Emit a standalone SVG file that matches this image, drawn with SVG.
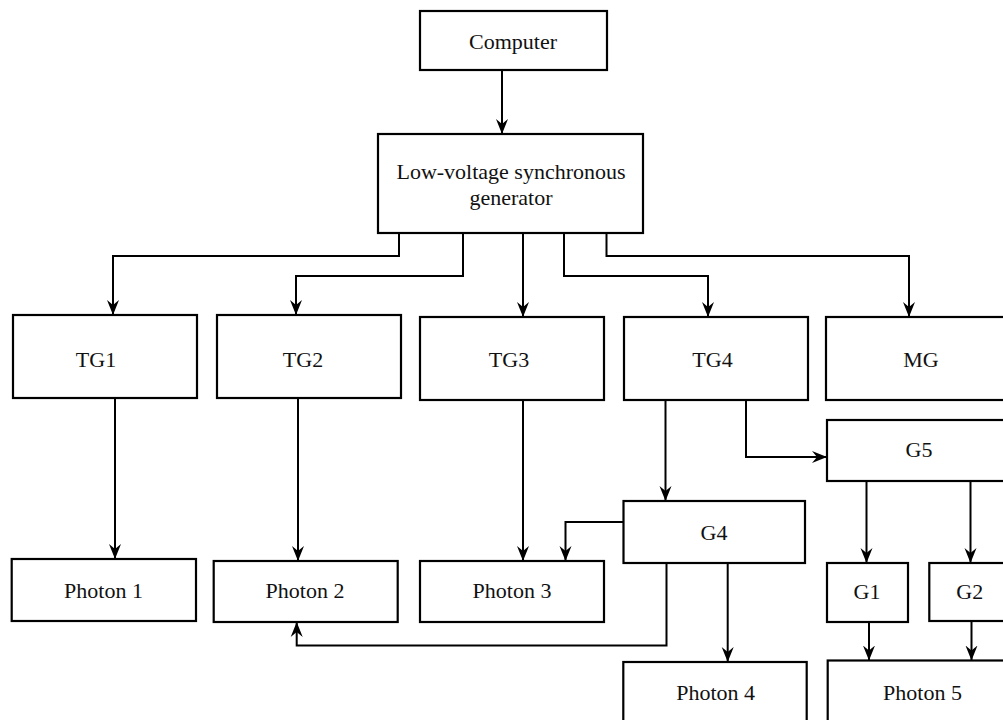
<svg xmlns="http://www.w3.org/2000/svg" width="1003" height="720" viewBox="0 0 1003 720">
<defs>
<style>
.box{fill:#fff;stroke:#000;stroke-width:2.2}
.lbl{font-family:"Liberation Serif","Times New Roman",serif;font-size:22px;fill:#111;text-anchor:middle}
.con{fill:none;stroke:#000;stroke-width:2;marker-end:url(#ah)}
</style>
<marker id="ah" markerUnits="userSpaceOnUse" markerWidth="16" markerHeight="14" refX="15" refY="7" orient="auto">
<path d="M0,1 L15,7 L0,13 L5,7 z" fill="#000"/>
</marker>
</defs>
<rect width="1003" height="720" fill="#fff"/>
<g id="connectors">
<path class="con" d="M502,70 V134"/>
<path class="con" d="M399,233 V256 H113 V315"/>
<path class="con" d="M463,233 V276 H296 V315"/>
<path class="con" d="M523,233 V317"/>
<path class="con" d="M564,233 V276 H708 V317"/>
<path class="con" d="M606.5,233 V256 H909 V317"/>
<path class="con" d="M115,398 V559"/>
<path class="con" d="M298,398 V561"/>
<path class="con" d="M523,400 V561"/>
<path class="con" d="M665.5,400 V501"/>
<path class="con" d="M746,400 V457 H827"/>
<path class="con" d="M623.5,522 H565.5 V561"/>
<path class="con" d="M666.5,563 V645.5 H296.7 V622"/>
<path class="con" d="M727.7,563 V662"/>
<path class="con" d="M866.5,481 V563"/>
<path class="con" d="M970.5,481 V563"/>
<path class="con" d="M869,622 V660.5"/>
<path class="con" d="M971.5,621 V660.5"/>
</g>
<g id="computer"><rect class="box" x="420" y="11" width="187" height="59"/><text class="lbl" x="513" y="48.5">Computer</text></g>
<g id="lvsg"><rect class="box" x="378" y="134" width="265" height="99"/><text class="lbl" x="511" y="179">Low-voltage synchronous</text><text class="lbl" x="511" y="205">generator</text></g>
<g id="tg1"><rect class="box" x="13" y="315" width="184" height="83"/><text class="lbl" x="96" y="367">TG1</text></g>
<g id="tg2"><rect class="box" x="217" y="315" width="184" height="83"/><text class="lbl" x="303" y="367">TG2</text></g>
<g id="tg3"><rect class="box" x="420" y="317" width="184" height="83"/><text class="lbl" x="509" y="367">TG3</text></g>
<g id="tg4"><rect class="box" x="624" y="317" width="184" height="83"/><text class="lbl" x="712.5" y="367">TG4</text></g>
<g id="mg"><rect class="box" x="826" y="317" width="190" height="83"/><text class="lbl" x="921" y="367">MG</text></g>
<g id="g5"><rect class="box" x="827" y="420" width="190" height="61"/><text class="lbl" x="919" y="457">G5</text></g>
<g id="g4"><rect class="box" x="623.5" y="501" width="181.5" height="62"/><text class="lbl" x="714" y="539.5">G4</text></g>
<g id="photon1"><rect class="box" x="11.7" y="559" width="184.3" height="62"/><text class="lbl" x="103.5" y="598">Photon 1</text></g>
<g id="photon2"><rect class="box" x="213.7" y="561" width="184" height="61"/><text class="lbl" x="305" y="598">Photon 2</text></g>
<g id="photon3"><rect class="box" x="420" y="561" width="184" height="61"/><text class="lbl" x="512" y="598">Photon 3</text></g>
<g id="g1"><rect class="box" x="827" y="563" width="81" height="59"/><text class="lbl" x="867" y="599">G1</text></g>
<g id="g2"><rect class="box" x="929.3" y="563" width="81" height="58"/><text class="lbl" x="969.7" y="599">G2</text></g>
<g id="photon4"><rect class="box" x="623.3" y="662" width="183.4" height="70"/><text class="lbl" x="715.7" y="700">Photon 4</text></g>
<g id="photon5"><rect class="box" x="827.7" y="660.5" width="190" height="70"/><text class="lbl" x="922.5" y="700">Photon 5</text></g>
</svg>
